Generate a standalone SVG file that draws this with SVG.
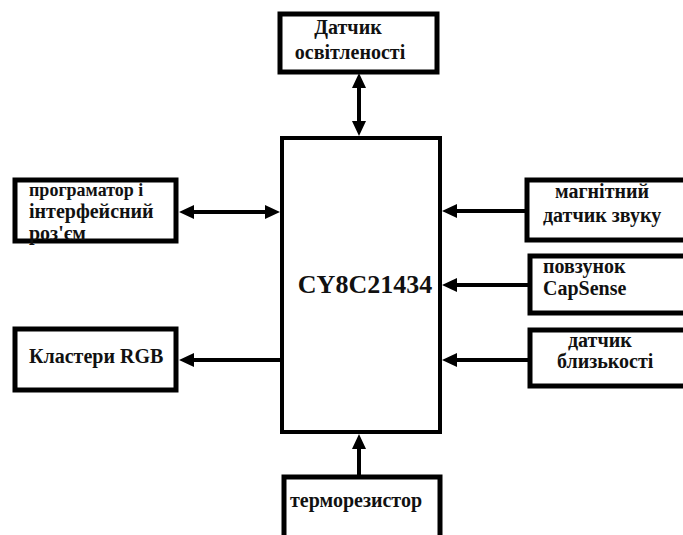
<svg xmlns="http://www.w3.org/2000/svg" width="683" height="535" viewBox="0 0 683 535">
<style>
.box{fill:#fff;stroke:#000;stroke-width:5}
.cpu{fill:#fff;stroke:#000;stroke-width:4}
.t{font-family:"Liberation Serif","Times New Roman",serif;font-weight:bold;font-size:20px;fill:#111}
.big{font-size:26px}
.sm{font-size:18px}
.c{stroke:#000;stroke-width:4;fill:none}
</style>
<defs>
<marker id="ah" markerUnits="userSpaceOnUse" markerWidth="16" markerHeight="14" viewBox="0 0 16 14" refX="7" refY="7" orient="auto-start-reverse">
<path d="M0,0 L15,7 L0,14 z" fill="#000"/>
</marker>
</defs>
<g id="connectors">
<path class="c" d="M359,81 L359,128" marker-start="url(#ah)" marker-end="url(#ah)"/>
<path class="c" d="M187,212 L272,212" marker-start="url(#ah)" marker-end="url(#ah)"/>
<path class="c" d="M280,360 L187,360" marker-end="url(#ah)"/>
<path class="c" d="M525,211 L450,211" marker-end="url(#ah)"/>
<path class="c" d="M528,285 L450,285" marker-end="url(#ah)"/>
<path class="c" d="M528,360 L450,360" marker-end="url(#ah)"/>
<path class="c" d="M359,475 L359,442" marker-end="url(#ah)"/>
</g>
<g id="cpu">
<rect class="cpu" x="282" y="138" width="158" height="294"/>
<text class="t big" x="365" y="293" text-anchor="middle">CY8C21434</text>
</g>
<g id="light">
<rect class="box" x="280" y="14" width="157" height="58"/>
<text class="t" x="348" y="34" text-anchor="middle">Датчик</text>
<text class="t" x="350" y="59" text-anchor="middle">освітленості</text>
</g>
<g id="prog">
<rect class="box" x="15" y="180" width="161" height="61"/>
<text class="t sm" x="29" y="196">програматор і</text>
<text class="t" x="29" y="218">інтерфейсний</text>
<text class="t" x="29" y="240">роз'єм</text>
</g>
<g id="rgb">
<rect class="box" x="15" y="329" width="161" height="61"/>
<text class="t" x="29" y="363">Кластери RGB</text>
</g>
<g id="mag">
<rect class="box" x="527" y="180" width="175" height="60"/>
<text class="t" x="555" y="198">магнітний</text>
<text class="t" x="543" y="222">датчик звуку</text>
</g>
<g id="slider">
<rect class="box" x="530" y="256" width="172" height="57"/>
<text class="t" x="543" y="273">повзунок</text>
<text class="t" x="543" y="295">CapSense</text>
</g>
<g id="prox">
<rect class="box" x="530" y="330" width="172" height="56"/>
<text class="t" x="568" y="347">датчик</text>
<text class="t" x="557" y="368">близькості</text>
</g>
<g id="therm">
<rect class="box" x="284" y="477" width="156" height="70"/>
<text class="t" x="290" y="507">терморезистор</text>
</g>
</svg>
